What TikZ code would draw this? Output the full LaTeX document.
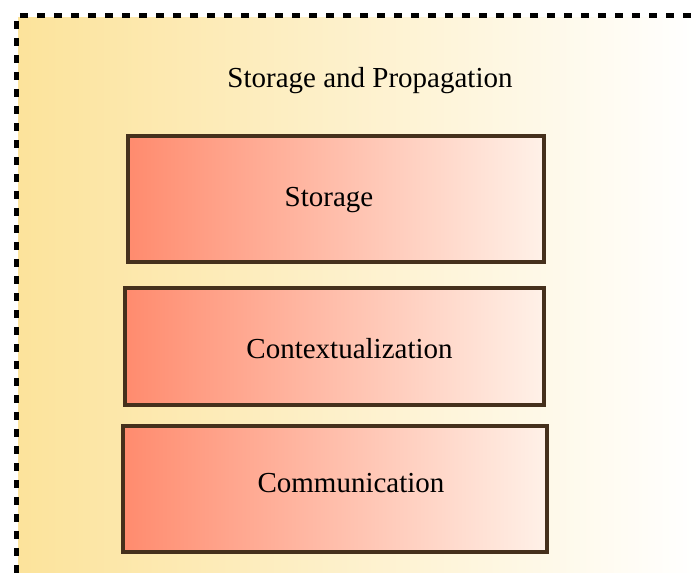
\documentclass[tikz,border=0pt]{standalone}
\usepackage{fontspec}
\setmainfont{Liberation Serif}
\usetikzlibrary{positioning}

\definecolor{bgyellow}{HTML}{FCE39B}
\definecolor{bgmid}{HTML}{FDF3D4}
\definecolor{layerleft}{HTML}{FF8B6E}
\definecolor{layerright}{HTML}{FFF1E8}
\definecolor{layerline}{HTML}{45301C}

\tikzset{
  layerbox/.style={draw=layerline, line width=3.5pt, rectangle, outer sep=0pt,
    left color=layerleft, right color=layerright},
  layertext/.style={font=\fontsize{29}{34}\selectfont, anchor=base, inner sep=0pt},
}

\begin{document}
\begin{tikzpicture}[x=1pt, y=1pt]
  \useasboundingbox (0,0) rectangle (699,573);
  % background and dashed frame
  \shade[left color=bgyellow, middle color=bgmid, right color=white] (18,0) rectangle (699,555);
  \draw[line width=5pt, dash pattern=on 8pt off 9pt] (16,0) -- (16,557) -- (699,557);
  \node[layertext] (title) at (370,485) {Storage and Propagation};

  % layers
  \node[layerbox, minimum width=416pt, minimum height=126pt] (storage) at (336,374) {};
  \node[layerbox, minimum width=419pt, minimum height=117pt, below=26pt of storage, xshift=-1.5pt] (context) {};
  \node[layerbox, minimum width=424pt, minimum height=126pt, below=21pt of context, xshift=0.5pt] (communication) {};

  \node[layertext] (storagetext) at (329,366) {Storage};
  \node[layertext] (contexttext) at (349.5,214) {Contextualization};
  \node[layertext] (communicationtext) at (351,80) {Communication};
\end{tikzpicture}
\end{document}
